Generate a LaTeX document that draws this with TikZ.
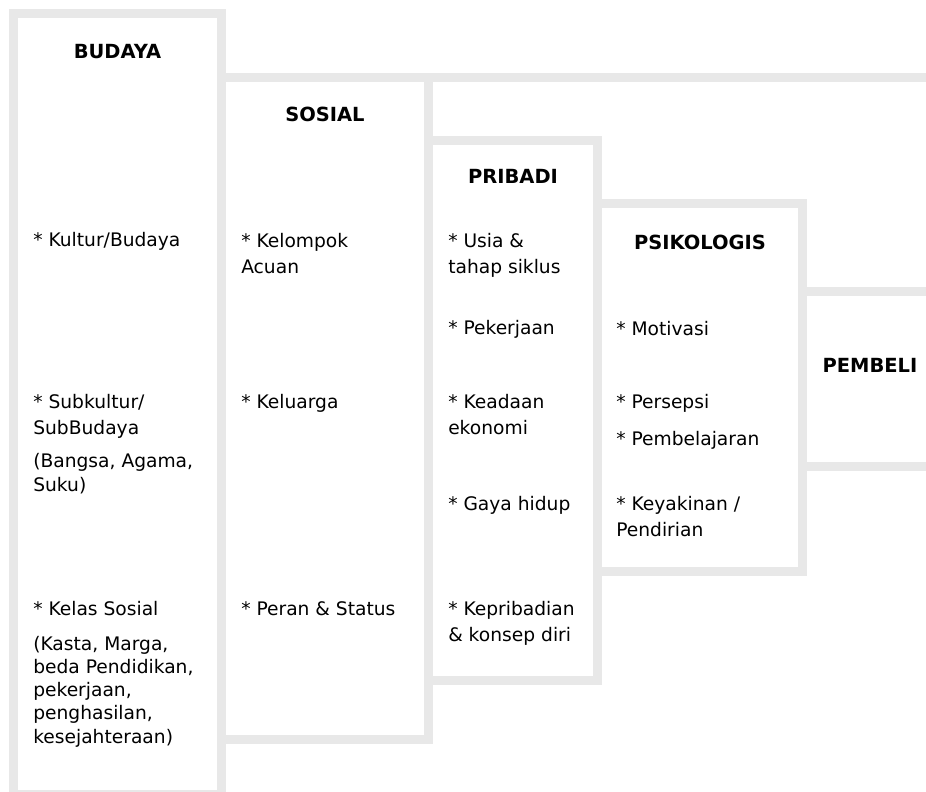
\documentclass[tikz,border=0pt]{standalone}
\usepackage{fontspec}
\setmainfont{DejaVu Sans}
\definecolor{framegray}{RGB}{232,232,232}
\tikzset{
  panel/.style={draw=framegray, line width=6.75pt},
  head/.style={font=\fontsize{14.6pt}{17pt}\selectfont\bfseries, anchor=base, inner sep=0pt},
  item/.style={font=\fontsize{14pt}{19.5pt}\selectfont, anchor=base west, align=left, inner sep=0pt},
  note/.style={font=\fontsize{14pt}{17.4pt}\selectfont, anchor=base west, align=left, inner sep=0pt},
}
\begin{document}
\begin{tikzpicture}[x=0.75pt, y=-0.75pt]
\useasboundingbox (0,0) rectangle (926,792);
\clip (0,0) rectangle (926,792);

% nested panels, one per level of influence
\draw[panel] (13.5,13.5) rectangle (221.5,794.5);
\draw[panel] (221.5,77.5) rectangle (428.5,739.5);
\draw[panel] (428.5,77.5) -- (1000,77.5);
\draw[panel] (428.5,140.5) rectangle (597.5,680.5);
\draw[panel] (597.5,203.5) rectangle (802.5,571.5);
\draw[panel] (802.5,291.5) rectangle (1000,466.5);

% headings
\node[head] (budaya) at (117.5,59) {BUDAYA};
\node[head] (sosial) at (325,122) {SOSIAL};
\node[head] (pribadi) at (513,184) {PRIBADI};
\node[head] (psikologis) at (700,249) {PSIKOLOGIS};
\node[head] (pembeli) at (870,372) {PEMBELI};

% cultural factors (multi-line texts sit on the baseline of their last line)
\node[item] (kultur) at (33,247) {* Kultur/Budaya};
\node[item] (subkultur) at (33,434) {* Subkultur/\\SubBudaya};
\node[note] (subnote) at (33,491) {(Bangsa, Agama,\\Suku)};
\node[item] (kelas) at (33,615) {* Kelas Sosial};
\node[note] (kelasnote) at (33,743) {(Kasta, Marga,\\beda Pendidikan,\\pekerjaan,\\penghasilan,\\kesejahteraan)};

% social factors
\node[item] (kelompok) at (241,273) {* Kelompok\\Acuan};
\node[item] (keluarga) at (241,408) {* Keluarga};
\node[item] (peran) at (241,615) {* Peran \& Status};

% personal factors
\node[item] (usia) at (448,273) {* Usia \&\\tahap siklus};
\node[item] (pekerjaan) at (448,334) {* Pekerjaan};
\node[item] (ekonomi) at (448,434) {* Keadaan\\ekonomi};
\node[item] (gaya) at (448,510) {* Gaya hidup};
\node[item] (kepribadian) at (448,641) {* Kepribadian\\\& konsep diri};

% psychological factors
\node[item] (motivasi) at (616,335) {* Motivasi};
\node[item] (persepsi) at (616,408) {* Persepsi};
\node[item] (belajar) at (616,445) {* Pembelajaran};
\node[item] (keyakinan) at (616,536) {* Keyakinan /\\Pendirian};
\end{tikzpicture}
\end{document}
